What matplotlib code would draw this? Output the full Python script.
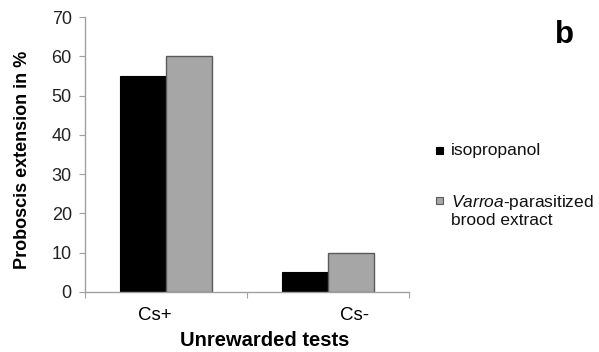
import matplotlib
matplotlib.use("Agg")
import matplotlib.pyplot as plt
from matplotlib.patches import Rectangle
import numpy as np

categories = ["Cs+", "Cs-"]
isopropanol = [55, 5]
varroa = [60, 10]
series_labels = ["isopropanol", "$\\it{Varroa}$-parasitized\nbrood extract"]
yticks = [0, 10, 20, 30, 40, 50, 60, 70]

plt.rcParams['font.family'] = ['Liberation Sans', 'DejaVu Sans']
plt.rcParams['mathtext.fontset'] = 'custom'
plt.rcParams['mathtext.it'] = 'Liberation Sans:italic'
plt.rcParams['mathtext.rm'] = 'Liberation Sans'

W, H = 599, 352
fig = plt.figure(figsize=(W/100, H/100), dpi=100)
ax = fig.add_axes([85/W, 1-292/H, 324/W, 275/H])

x = np.arange(len(categories))
w = 0.285
axis_gray = '#a0a0a0'
colors = ['black', '#a6a6a6']
edges = ['black', '#5a5a5a']
ax.bar(x - w/2, isopropanol, width=w, color=colors[0], edgecolor=edges[0], linewidth=0.8)
ax.bar(x + w/2, varroa, width=w, color=colors[1], edgecolor=edges[1], linewidth=1.0)

ax.set_xlim(-0.5, 1.5)
ax.set_ylim(0, 70)
ax.set_yticks(yticks)
ax.set_xticks([-0.5, 0.5, 1.5])
ax.set_xticklabels([])
# category labels sit slightly off the bar-group centres in the original
ax.set_xticks([x[0] - 0.068, x[1] + 0.167], minor=True)
ax.set_xticklabels(categories, minor=True, fontsize=13.5)
ax.tick_params(axis='x', which='minor', length=0, pad=11)
ax.tick_params(axis='x', which='major', length=4.5, color=axis_gray, direction='out')
ax.tick_params(axis='y', length=4.5, color=axis_gray, labelsize=13, pad=5, labelcolor='#222222')
ax.tick_params(axis='x', labelcolor='#222222')

for s in ['top', 'right']:
    ax.spines[s].set_visible(False)
for s in ['left', 'bottom']:
    ax.spines[s].set_color(axis_gray)
    ax.spines[s].set_linewidth(1.0)

ax.set_ylabel("Proboscis extension in %", fontsize=13, fontweight='bold')
ax.yaxis.set_label_coords((31-85)/324, 0.48)
ax.set_xlabel("Unrewarded tests", fontsize=14.5, fontweight='bold')
ax.xaxis.set_label_coords((264.5-85)/324, (292-331)/275)

# legend drawn manually
sw = 7
fig.patches.append(Rectangle((436/W, 1-154/H), sw/W, sw/H, transform=fig.transFigure,
                             facecolor=colors[0], edgecolor=edges[0], linewidth=0.8))
fig.patches.append(Rectangle((436/W, 1-204/H), sw/W, sw/H, transform=fig.transFigure,
                             facecolor=colors[1], edgecolor=edges[1], linewidth=0.8))
fig.text(451/W, 1-151/H, series_labels[0], fontsize=12.5, va='center', color='#111111')
fig.text(451/W, 1-193/H, series_labels[1], fontsize=12.5, va='top', color='#111111',
         linespacing=1.1)

fig.text(555/W, 1-43/H, "b", fontsize=22.5, fontweight='bold', va='baseline')

fig.savefig("out.png", dpi=100)
